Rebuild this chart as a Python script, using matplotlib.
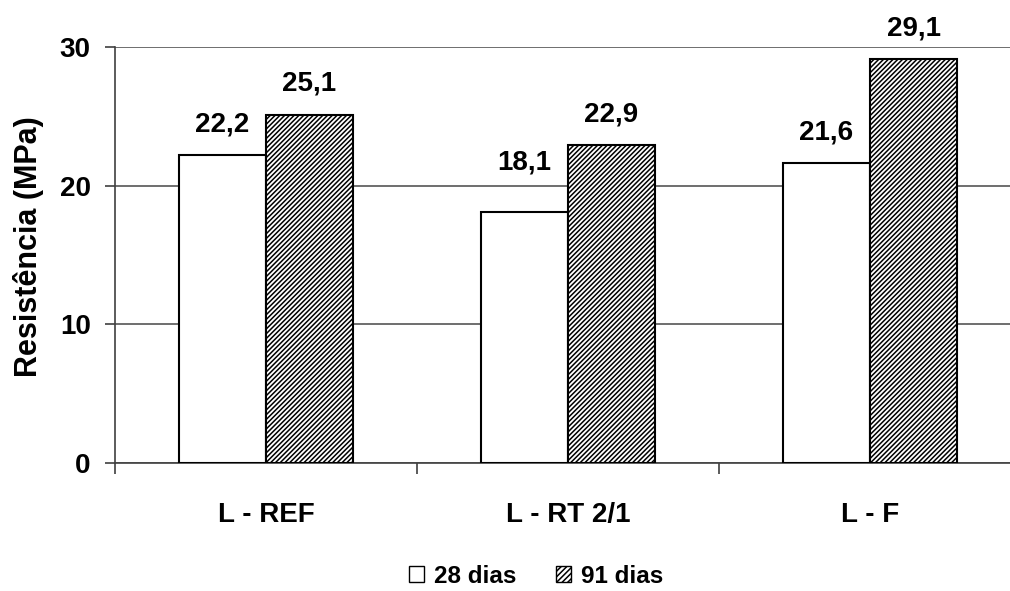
import numpy as np
import matplotlib.pyplot as plt
from matplotlib.patches import Patch

plt.rcParams['font.family'] = ['Liberation Sans', 'DejaVu Sans']
plt.rcParams['font.weight'] = 'bold'
plt.rcParams['hatch.linewidth'] = 1.1

categories = ['L - REF', 'L - RT 2/1', 'L - F']
dias_28 = [22.2, 18.1, 21.6]
dias_91 = [25.1, 22.9, 29.1]
labels_28 = ['22,2', '18,1', '21,6']
labels_91 = ['25,1', '22,9', '29,1']

fig = plt.figure(figsize=(10.10, 5.91), dpi=100)
ax = fig.add_axes([0.1139, 0.2166, 0.897, 0.704])

x = np.arange(len(categories))
w = 0.288

b1 = ax.bar(x - w / 2, dias_28, w, color='white', edgecolor='black', linewidth=1.5, zorder=3)
b2 = ax.bar(x + w / 2, dias_91, w, color='white', edgecolor='black', linewidth=1.5,
            hatch='///////', zorder=3)

# the 18,1 label sits a little higher than the others
lift = {'18,1': 13}
for rects, labs in ((b1, labels_28), (b2, labels_91)):
    for r, lab in zip(rects, labs):
        ax.annotate(lab, (r.get_x() + r.get_width() / 2, r.get_height()),
                    xytext=(0, 13 + lift.get(lab, 0)), textcoords='offset points',
                    ha='center', va='bottom', fontsize=20, fontweight='bold')

ax.set_xlim(-0.5, 2.5)
ax.set_ylim(0, 30)
ax.set_yticks([0, 10, 20, 30])
ax.set_yticklabels(['0', '10', '20', '30'], fontsize=20, fontweight='bold')
ax.set_xticks([-0.5, 0.5, 1.5, 2.5])
ax.set_xticklabels([])
ax.set_xticks(x, minor=True)
ax.set_xticklabels(categories, minor=True, fontsize=20, fontweight='bold')
ax.tick_params(axis='x', which='minor', length=0, pad=28)
ax.tick_params(axis='x', which='major', direction='out', length=8, width=1.2, color='#404040')
ax.tick_params(axis='y', direction='out', length=7.5, width=1.2, color='#404040', pad=10)

ax.grid(axis='y', color='#555555', linewidth=1.2, zorder=0)
for s in ('top', 'right'):
    ax.spines[s].set_visible(False)
for s in ('left', 'bottom'):
    ax.spines[s].set_color('#404040')
    ax.spines[s].set_linewidth(1.2)

ax.set_ylabel('Resistência (MPa)', fontsize=22, fontweight='bold')
ax.yaxis.set_label_coords(-0.078, 0.519)

handles = [Patch(facecolor='white', edgecolor='black', label='28 dias'),
           Patch(facecolor='white', edgecolor='black', hatch='//////', label='91 dias')]
fig.legend(handles=handles, loc='center', bbox_to_anchor=(0.531, 0.025), ncol=2, frameon=False,
           prop={'size': 17.5, 'weight': 'bold'}, handlelength=0.62, handleheight=0.62,
           handletextpad=0.4, columnspacing=1.65, borderpad=0, borderaxespad=0)

fig.savefig('out.png', dpi=100)
